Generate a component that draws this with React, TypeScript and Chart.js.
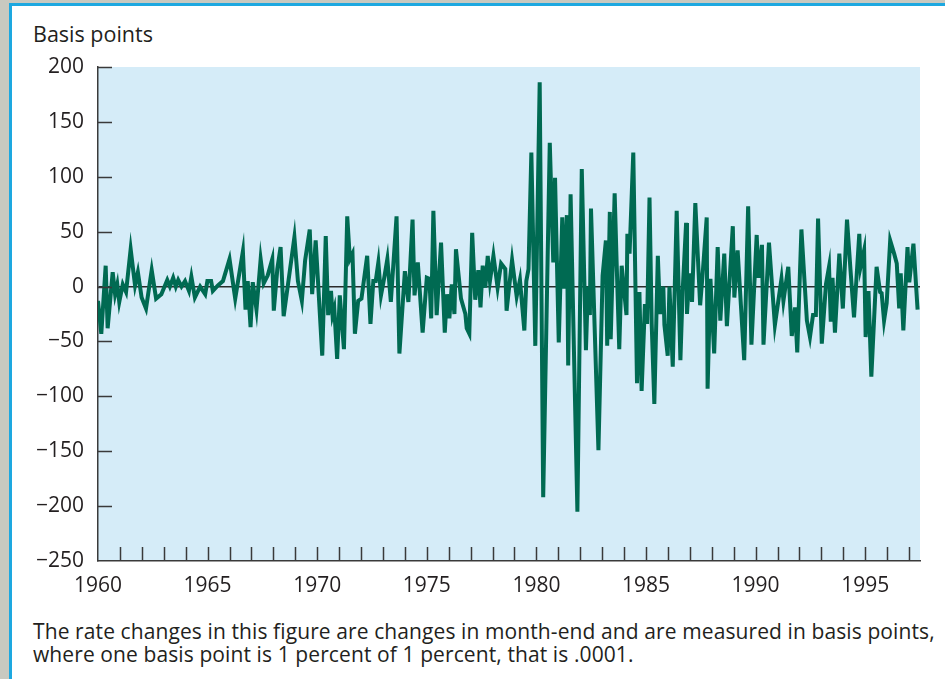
import React, { useEffect, useRef } from 'react';
import { Chart, registerables } from 'chart.js';

Chart.register(...registerables);

// Decimal year of each vertex and the change in basis points
const years = [
  1960.00, 1960.15, 1960.35, 1960.44, 1960.67, 1960.78, 1960.88, 1960.97, 1961.13, 1961.28,
  1961.49, 1961.69, 1961.82, 1961.99, 1962.19, 1962.45, 1962.65, 1962.89, 1963.16, 1963.28,
  1963.43, 1963.55, 1963.66, 1963.81, 1963.97, 1964.15, 1964.26, 1964.42, 1964.66, 1964.89,
  1964.99, 1965.16, 1965.24, 1965.47, 1965.70, 1966.00, 1966.26, 1966.61, 1966.73, 1966.83,
  1966.96, 1967.06, 1967.23, 1967.42, 1967.56, 1967.74, 1967.95, 1968.02, 1968.18, 1968.33,
  1968.47, 1968.96, 1969.12, 1969.30, 1969.45, 1969.66, 1969.77, 1969.93, 1970.23, 1970.39,
  1970.50, 1970.63, 1970.70, 1970.78, 1970.91, 1971.03, 1971.22, 1971.37, 1971.49, 1971.61,
  1971.72, 1971.87, 1972.02, 1972.28, 1972.43, 1972.56, 1972.67, 1972.79, 1972.91, 1973.05,
  1973.20, 1973.36, 1973.62, 1973.75, 1974.00, 1974.16, 1974.35, 1974.44, 1974.59, 1974.81,
  1975.00, 1975.12, 1975.20, 1975.30, 1975.45, 1975.65, 1975.82, 1975.92, 1976.03, 1976.14,
  1976.26, 1976.33, 1976.56, 1976.76, 1976.82, 1976.94, 1977.07, 1977.21, 1977.35, 1977.45,
  1977.55, 1977.67, 1977.78, 1977.88, 1978.04, 1978.23, 1978.39, 1978.58, 1978.64, 1978.89,
  1979.10, 1979.25, 1979.45, 1979.54, 1979.64, 1979.77, 1979.95, 1980.15, 1980.31, 1980.61,
  1980.77, 1980.85, 1981.02, 1981.18, 1981.26, 1981.39, 1981.45, 1981.56, 1981.87, 1982.07,
  1982.26, 1982.35, 1982.44, 1982.49, 1982.83, 1983.02, 1983.17, 1983.23, 1983.35, 1983.39,
  1983.57, 1983.66, 1983.78, 1983.89, 1984.11, 1984.15, 1984.25, 1984.42, 1984.59, 1984.70,
  1984.80, 1984.95, 1985.05, 1985.16, 1985.26, 1985.38, 1985.54, 1985.64, 1985.79, 1985.84,
  1985.99, 1986.07, 1986.22, 1986.40, 1986.57, 1986.67, 1986.83, 1986.87, 1986.98, 1987.10,
  1987.25, 1987.47, 1987.59, 1987.77, 1987.81, 1987.94, 1988.11, 1988.27, 1988.39, 1988.57,
  1988.69, 1988.96, 1989.03, 1989.18, 1989.48, 1989.66, 1989.81, 1990.05, 1990.13, 1990.29,
  1990.36, 1990.61, 1990.88, 1991.18, 1991.27, 1991.49, 1991.65, 1991.80, 1991.90, 1992.09,
  1992.34, 1992.48, 1992.62, 1992.75, 1992.85, 1993.02, 1993.21, 1993.35, 1993.43, 1993.51,
  1993.62, 1993.82, 1993.98, 1994.17, 1994.33, 1994.49, 1994.73, 1994.79, 1994.95, 1995.02,
  1995.15, 1995.28, 1995.52, 1995.68, 1995.75, 1995.86, 1995.98, 1996.14, 1996.32, 1996.44,
  1996.55, 1996.62, 1996.74, 1996.93, 1997.01, 1997.20, 1997.39,
];

const bp = [
  -13, -43, 19, -38, 13, -7, 2, -14, 2, -5,
  34, 1, 13, -10, -20, 15, -11, -7, 6, 0,
  8, 0, 6, 0, 5, -4, 9, -10, 0, -7,
  5, 5, -4, 1, 5, 25, -11, 32, -21, 5,
  -37, 4, -21, 25, 3, 10, 25, -22, 16, 36,
  -27, 45, 5, -13, 24, 52, -7, 42, -63, 46,
  -26, -4, -26, -20, -66, -8, -57, 64, 25, 30,
  -43, -13, -11, 28, -34, 5, 5, 22, -8, 7,
  25, -14, 64, -61, 14, -14, 61, -8, 22, -42,
  8, 7, -29, 69, -26, 40, -42, -7, -29, 2,
  -25, 34, -11, -25, -38, -43, 49, -12, 15, -19,
  19, -1, 28, 5, 28, -1, 21, 16, -22, 24,
  -9, 6, -40, 5, 16, 122, -54, 186, -192, 131,
  22, 99, -51, 63, -2, 65, -72, 84, -205, 107,
  -58, 0, -26, 71, -149, 10, 42, -54, 68, -48,
  85, 22, -57, 19, -26, 48, 30, 122, -88, -5,
  -95, -16, -34, 81, -34, -107, 28, -25, 0, -35,
  -63, 0, -73, 69, -67, -5, 58, -25, 12, -14,
  76, -17, 13, 63, -93, 7, -61, 36, -31, 30,
  -36, 55, -10, 33, -67, 73, -53, 47, 8, 38,
  -53, 40, -35, 7, -13, 18, -45, -19, -60, 52,
  -31, -46, -26, -26, 62, -52, 2, 18, -32, 8,
  -42, 30, -20, 61, 15, -28, 48, 18, 33, -46,
  -4, -82, 18, -5, -6, -31, -15, 42, 30, 21,
  -20, 12, -40, 36, 4, 39, -21,
];

const yTickValues = [200, 150, 100, 50, 0, -50, -100, -150, -200, -250];
const yInnerTicks = [200, 150, 100, 50, 0, -50, -100, -150, -200];
const xLabelYears = [1960, 1965, 1970, 1975, 1980, 1985, 1990, 1995];
const yearTicks = [
  1961, 1962, 1963, 1964, 1965, 1966, 1967, 1968, 1969, 1970,
  1971, 1972, 1973, 1974, 1975, 1976, 1977, 1978, 1979, 1980,
  1981, 1982, 1983, 1984, 1985, 1986, 1987, 1988, 1989, 1990,
  1991, 1992, 1993, 1994, 1995, 1996, 1997,
];
const xMin = 1960;
const xMax = 1997.5;

const FONT = "'Open Sans', 'Noto Sans', sans-serif";
const TEXT = '#231F20';
const AXIS = '#3a3a3a';

const plotBg = {
  id: 'plotBg',
  beforeDraw(chart: any) {
    const { ctx, chartArea } = chart;
    ctx.save();
    ctx.fillStyle = '#D5ECF8';
    ctx.fillRect(chartArea.left, chartArea.top, chartArea.right - chartArea.left, chartArea.bottom - chartArea.top);
    ctx.restore();
  },
};

const innerTicks = {
  id: 'innerTicks',
  afterDraw(chart: any) {
    const { ctx, chartArea } = chart;
    const xs = chart.scales.x;
    const ys = chart.scales.y;
    ctx.save();
    ctx.strokeStyle = AXIS;
    ctx.lineWidth = 1.5;
    for (const yr of yearTicks) {
      const px = Math.round(xs.getPixelForValue(yr)) + 0.5;
      ctx.beginPath();
      ctx.moveTo(px, chartArea.bottom);
      ctx.lineTo(px, chartArea.bottom - 14);
      ctx.stroke();
    }
    for (const v of yInnerTicks) {
      const py = Math.round(ys.getPixelForValue(v)) + 0.5;
      ctx.beginPath();
      ctx.moveTo(chartArea.left, py);
      ctx.lineTo(chartArea.left + 14, py);
      ctx.stroke();
    }
    ctx.restore();
  },
};

export default function App() {
  const ref = useRef<HTMLCanvasElement>(null);

  useEffect(() => {
    const points = years.map((x, i) => ({ x, y: bp[i] }));
    const chart = new Chart(ref.current as HTMLCanvasElement, {
      type: 'line',
      data: {
        datasets: [
          {
            data: points,
            borderColor: '#006A52',
            borderWidth: 4,
            pointRadius: 0,
            tension: 0,
            fill: false,
          },
        ],
      },
      options: {
        animation: false,
        responsive: false,
        parsing: false,
        layout: { padding: { left: 0, right: 25, top: 27, bottom: 0 } },
        plugins: { legend: { display: false }, tooltip: { enabled: false } },
        scales: {
          x: {
            type: 'linear',
            min: xMin,
            max: xMax,
            afterBuildTicks: (s: any) => {
              s.ticks = xLabelYears.map((v) => ({ value: v }));
            },
            afterFit: (s: any) => {
              s.height = 49;
            },
            grid: { display: false, drawTicks: false },
            border: { display: true, color: AXIS, width: 1.5 },
            ticks: {
              autoSkip: false,
              maxRotation: 0,
              padding: 12,
              color: TEXT,
              font: { family: FONT, size: 21 },
              callback: (v: any) => String(v),
            },
          },
          y: {
            type: 'linear',
            min: -250,
            max: 200,
            afterBuildTicks: (s: any) => {
              s.ticks = yTickValues.map((v) => ({ value: v }));
            },
            afterFit: (s: any) => {
              s.width = 98;
            },
            grid: {
              display: true,
              drawTicks: false,
              color: (c: any) => (c.tick && c.tick.value === 0 ? '#2b2b2b' : 'rgba(0,0,0,0)'),
              lineWidth: 1.5,
            },
            border: { display: true, color: AXIS, width: 1.5 },
            ticks: {
              padding: 14,
              color: TEXT,
              font: { family: FONT, size: 21 },
              callback: (v: any) => (v < 0 ? '\u2212' + Math.abs(v) : String(v)),
            },
          },
        },
      },
      plugins: [plotBg, innerTicks],
    });
    return () => chart.destroy();
  }, []);

  return (
    <div
      style={{
        position: 'absolute',
        left: 0,
        top: 0,
        width: 945,
        height: 679,
        background: '#C8C9C0',
        overflow: 'hidden',
        fontFamily: FONT,
        color: TEXT,
      }}
    >
      <div
        style={{
          position: 'absolute',
          left: 9,
          top: 3,
          width: 960,
          height: 700,
          border: '3px solid #1DA8E0',
          background: '#ffffff',
          boxSizing: 'border-box',
        }}
      />
      <div style={{ position: 'absolute', left: 33, top: 21, fontSize: 21.5, lineHeight: '26px', whiteSpace: 'nowrap' }}>
        Basis points
      </div>
      <div style={{ position: 'absolute', left: 0, top: 40, width: 945, height: 570 }}>
        <canvas ref={ref} width={945} height={570} style={{ width: 945, height: 570, display: 'block' }} />
      </div>
      <div
        style={{
          position: 'absolute',
          left: 33,
          top: 620,
          fontSize: 21,
          lineHeight: '23px',
          letterSpacing: '0.1px',
          whiteSpace: 'nowrap',
        }}
      >
        The rate changes in this figure are changes in month-end and are measured in basis points,
        <br />
        where one basis point is 1 percent of 1 percent, that is .0001.
      </div>
    </div>
  );
}
